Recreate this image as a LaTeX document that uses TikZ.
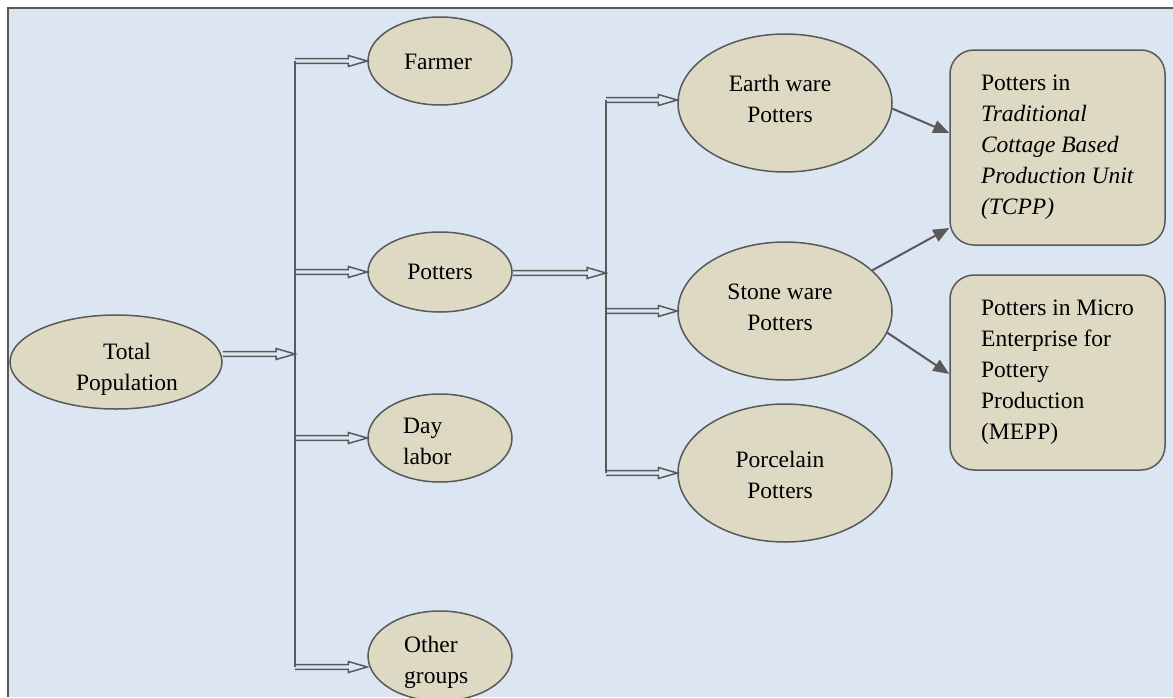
\documentclass[tikz,border=0pt]{standalone}
\usepackage{fontspec}
\setmainfont{Liberation Serif}
\usetikzlibrary{shapes.geometric,arrows.meta,calc}
\definecolor{bg}{HTML}{DCE6F2}
\definecolor{tanfill}{HTML}{DDD9C3}
\definecolor{ln}{HTML}{595959}
\begin{document}
\begin{tikzpicture}[x=1pt,y=-1pt,
  font=\fontsize{23.5}{31}\selectfont,
  ell/.style={ellipse, draw=ln, line width=1.5, fill=tanfill, inner sep=0},
  smallell/.style={ell, minimum width=144, minimum height=88},
  bigell/.style={ell, minimum width=214, minimum height=138},
  rbox/.style={rectangle, rounded corners=24, draw=ln, line width=1.5, fill=tanfill,
    minimum width=215, minimum height=195, align=left, inner sep=0},
  txt/.style={inner sep=0, align=center},
  ltxt/.style={inner sep=0, align=left, anchor=west},
  vline/.style={draw=ln, line width=1.5},
  dbl/.style={draw=ln, line width=1.5, line join=miter, to path={
    ($(\tikztostart)+(0,-2.3)$) -- ($(\tikztotarget)+(-19,-2.3)$) -- ($(\tikztotarget)+(-19,-5.5)$)
    -- (\tikztotarget) -- ($(\tikztotarget)+(-19,5.5)$) -- ($(\tikztotarget)+(-19,2.3)$)
    -- ($(\tikztostart)+(0,2.3)$)}},
  arr/.style={draw=ln, line width=2, -{Triangle[length=16pt,width=13pt]}}
]
\useasboundingbox (0,0) rectangle (1173,697);
\fill[bg] (8,8) rectangle (1173,697);
\draw[ln, line width=2.5] (8,697) -- (8,8) -- (1173,8);

% ellipses
\node[ell, minimum width=212, minimum height=94] (tp) at (116,362) {};
\node[txt] (tpt) at (127,369) {Total\\Population};

\node[smallell] (farmer) at (440,61) {};
\node[txt] (farmert) at (438,62) {Farmer};
\node[smallell, minimum height=80] (potters) at (440,272) {};
\node[txt] (potterst) at (440,272) {Potters};
\node[smallell] (day) at (440,438) {};
\node[ltxt] (dayt) at (403,441) {Day\\labor};
\node[smallell, minimum height=90] (other) at (440,656) {};
\node[ltxt] (othert) at (404,662) {Other\\groups};

\node[bigell] (earth) at (785,103) {};
\node[txt] (eartht) at (780,99) {Earth ware\\Potters};
\node[bigell] (stone) at (785,311) {};
\node[txt] (stonet) at (780,307) {Stone ware\\Potters};
\node[bigell] (porc) at (785,473) {};
\node[txt] (porct) at (780,475) {Porcelain\\Potters};

\node[rbox] (tcpp) at (1057.5,147.5) {Potters in\\\textit{Traditional}\\\textit{Cottage Based}\\\textit{Production Unit}\\\textit{(TCPP)}};
\node[rbox] (mepp) at (1057.5,372.5) {Potters in Micro\\Enterprise for\\Pottery\\Production\\(MEPP)};

% trunk lines
\coordinate (v1a) at (295,61);
\coordinate (v1b) at (295,667);
\coordinate (j1) at (295,354);
\coordinate (v2a) at (606,100);
\coordinate (v2b) at (606,473);
\coordinate (j2) at (606,273);
\draw[vline] (v1a) -- (v1b);
\draw[vline] (v2a) -- (v2b);

\draw[dbl] (j1 -| tp.east) to (j1);
\draw[dbl] (v1a) to (v1a -| farmer.west);
\draw[dbl] (potters.west -| v1a) to (potters.west);
\draw[dbl] (day.west -| v1a) to (day.west);
\draw[dbl] (v1b) to (v1b -| other.west);

\draw[dbl] (j2 -| potters.east) to (j2);
\draw[dbl] (v2a) to (v2a -| earth.west);
\draw[dbl] (stone.west -| v2a) to (stone.west);
\draw[dbl] (v2b) to (v2b -| porc.west);

% solid arrows
\draw[arr] (earth.-3) -- ($(tcpp.west)+(0,-14.5)$);
\draw[arr] (stone.25) -- ($(tcpp.west)+(0,80.5)$);
\draw[arr] (stone.-12) -- ($(mepp.west)+(0,1.5)$);
\end{tikzpicture}
\end{document}
